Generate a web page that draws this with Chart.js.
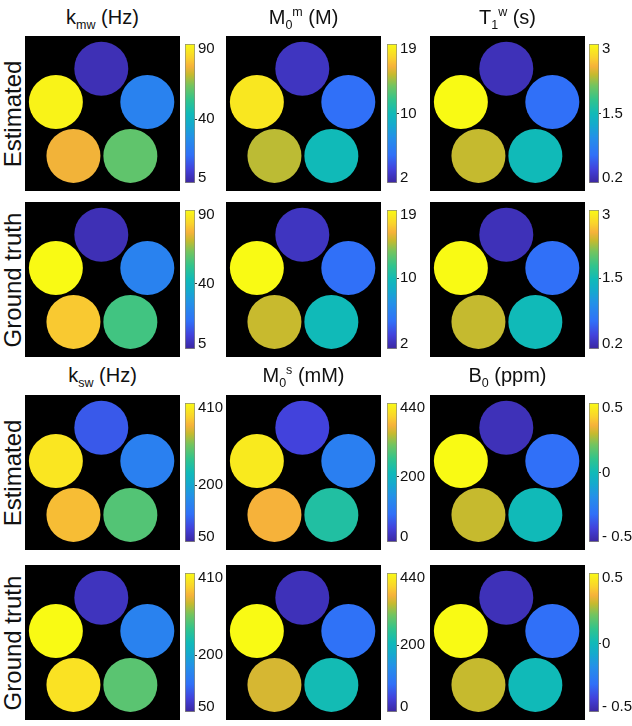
<!DOCTYPE html>
<html><head><meta charset="utf-8">
<script src="https://cdn.jsdelivr.net/npm/chart.js@4"></script>
<style>
html,body{margin:0;padding:0;background:#fff;width:632px;height:726px;overflow:hidden;font-family:"Liberation Sans",Arial,sans-serif;color:#111}
canvas{position:absolute;display:block}
.t{position:absolute;font-size:20px;line-height:24px;white-space:nowrap;transform:translateX(-50%)}
.t sub,.t sup{font-size:12.5px;line-height:0}
.r{position:absolute;font-size:24px;line-height:26px;white-space:nowrap;transform:translate(-50%,-50%) rotate(-90deg)}
</style></head><body>
<script>
// phantom vial layout, in image pixels (128 x 128 matrix)
const vialX = [63, 25.5, 101, 40, 87];
const vialY = [27, 54.5, 54.5, 99, 99];

const kmwEstimated = [8, 88.5, 28, 76, 62];
const kmwTruth     = [8, 90, 28, 80, 58];
const m0mEstimated = [2.9, 18.2, 5.4, 15.1, 10.5];
const m0mTruth     = [2.9, 19, 5.4, 15.3, 10.5];
const t1wEstimated = [0.31, 3, 0.76, 2.38, 1.6];
const t1wTruth     = [0.31, 3, 0.76, 2.38, 1.6];
const kswEstimated = [104, 392, 144, 360, 284];
const kswTruth     = [68, 410, 147, 388, 288];
const m0sEstimated = [44, 422, 114, 370, 242];
const m0sTruth     = [18, 440, 92, 352, 224];
const b0Estimated  = [-0.46, 0.5, -0.3, 0.28, 0];
const b0Truth      = [-0.46, 0.5, -0.3, 0.28, 0];

const kmwRange = [5, 90],  m0mRange = [2, 19],  t1wRange = [0.2, 3];
const kswRange = [50, 410], m0sRange = [0, 440], b0Range = [-0.5, 0.5];

const kmwTicks = ['5', '40', '90'];
const m0mTicks = ['2', '10', '19'];
const t1wTicks = ['0.2', '1.5', '3'];
const kswTicks = ['50', '200', '410'];
const m0sTicks = ['0', '200', '440'];
const b0Ticks  = ['- 0.5', '0', '0.5'];

const kmwTitle = 'k<sub>mw</sub> (Hz)';
const m0mTitle = 'M<sub>0</sub><sup>m</sup> (M)';
const t1wTitle = 'T<sub>1</sub><sup>w</sup> (s)';
const kswTitle = 'k<sub>sw</sub> (Hz)';
const m0sTitle = 'M<sub>0</sub><sup>s</sup> (mM)';
const b0Title  = 'B<sub>0</sub> (ppm)';

const rowLabels = ['Estimated', 'Ground truth', 'Estimated', 'Ground truth'];

// colormap
const cmap = [
 [0,[60,38,160]],[0.1,[66,66,220]],[0.2,[48,112,248]],[0.33,[35,145,232]],[0.42,[20,170,205]],
 [0.5,[16,186,184]],[0.6,[50,196,140]],[0.7,[115,196,95]],[0.78,[198,186,46]],[0.84,[246,178,58]],[0.9,[250,210,45]],[1,[249,250,20]]
];
function colorAt(f){
  f=Math.max(0,Math.min(1,f));
  for(let i=1;i<cmap.length;i++){
    if(f<=cmap[i][0]){
      const a=cmap[i-1],b=cmap[i],t=(f-a[0])/(b[0]-a[0]);
      return 'rgb('+a[1].map((v,k)=>Math.round(v+(b[1][k]-v)*t)).join(',')+')';
    }
  }
  return 'rgb(249,250,20)';
}

const colX = [25, 226, 430], barX = [185, 387, 589], rowY = [36, 202, 395, 565];
const panelSize = 155;

const blackBg = {id:'blackBg',beforeDraw(c){const g=c.ctx;g.save();g.fillStyle='#000';g.fillRect(0,0,c.width,c.height);g.restore();}};

function addCanvas(x,y,w,h){
  const cv=document.createElement('canvas');
  cv.style.left=x+'px';cv.style.top=y+'px';cv.style.width=w+'px';cv.style.height=h+'px';
  cv.width=w;cv.height=h;document.body.appendChild(cv);return cv.getContext('2d');
}

function phantom(x,y,values,range){
  new Chart(addCanvas(x,y,panelSize,panelSize),{
    type:'bubble',plugins:[blackBg],
    data:{datasets:[{
      data:values.map((v,i)=>({x:vialX[i],y:vialY[i],r:27,v})),
      backgroundColor:values.map(v=>colorAt((v-range[0])/(range[1]-range[0]))),
      borderWidth:0,hoverRadius:0
    }]},
    options:{responsive:false,animation:false,layout:{padding:0,autoPadding:false},clip:false,
      plugins:{legend:{display:false},tooltip:{enabled:false},title:{display:false}},
      scales:{x:{type:'linear',min:0,max:128,display:false},
              y:{type:'linear',min:0,max:128,reverse:true,display:false}}}
  });
}

function colorbar(x,y,labels,midFrac){
  const pos=[0.035,midFrac,0.965];
  new Chart(addCanvas(x,y-2,47,panelSize+4),{
    type:'bar',
    data:{labels:[''],datasets:[{
      data:[[0,1]],barPercentage:1,categoryPercentage:1,
      backgroundColor(ctx){
        const a=ctx.chart.chartArea; if(!a) return '#888';
        const g=ctx.chart.ctx.createLinearGradient(0,a.bottom,0,a.top);
        cmap.forEach(s=>g.addColorStop(s[0],'rgb('+s[1].join(',')+')'));
        return g;
      },
      borderColor:'#8b8b7c',borderWidth:1,borderSkipped:false
    }]},
    options:{responsive:false,animation:false,
      layout:{padding:{left:0,top:0,bottom:0,right:0}},
      plugins:{legend:{display:false},tooltip:{enabled:false},title:{display:false}},
      scales:{
        x:{display:false},
        y:{position:'right',min:0,max:1,afterFit(s){s.width=37;},
           afterBuildTicks(s){s.ticks=pos.map(value=>({value}));},
           border:{display:false},
           grid:{drawOnChartArea:false,drawTicks:true,tickLength:2,tickWidth:1,
                 tickColor(c){return c.index===1?'#333':'rgba(0,0,0,0)';}},
           ticks:{autoSkip:false,maxRotation:0,padding:1,color:'#111',
                  font:{family:'"Liberation Sans"',size:15},
                  callback(v,i){return labels[i];}}}
      }}
  });
}

function text(cls,x,y,html){const d=document.createElement('div');d.className=cls;d.style.left=x+'px';d.style.top=y+'px';d.innerHTML=html;document.body.appendChild(d);}

const rows=[
 {y:rowY[0],titleY:5,data:[kmwEstimated,m0mEstimated,t1wEstimated],title:[kmwTitle,m0mTitle,t1wTitle],mid:[0.46,0.5,0.5]},
 {y:rowY[1],data:[kmwTruth,m0mTruth,t1wTruth],mid:[0.47,0.51,0.51]},
 {y:rowY[2],titleY:363,data:[kswEstimated,m0sEstimated,b0Estimated],title:[kswTitle,m0sTitle,b0Title],mid:[0.41,0.47,0.5]},
 {y:rowY[3],data:[kswTruth,m0sTruth,b0Truth],mid:[0.41,0.48,0.49]}
];
const ranges=[[kmwRange,m0mRange,t1wRange],[kmwRange,m0mRange,t1wRange],[kswRange,m0sRange,b0Range],[kswRange,m0sRange,b0Range]];
const ticks=[[kmwTicks,m0mTicks,t1wTicks],[kmwTicks,m0mTicks,t1wTicks],[kswTicks,m0sTicks,b0Ticks],[kswTicks,m0sTicks,b0Ticks]];
rows.forEach((row,r)=>{
  text('r',13,row.y+panelSize/2,rowLabels[r]);
  for(let c=0;c<3;c++){
    phantom(colX[c],row.y,row.data[c],ranges[r][c]);
    colorbar(barX[c],row.y,ticks[r][c],row.mid[c]);
    if(row.title) text('t',colX[c]+panelSize/2,row.titleY,row.title[c]);
  }
});
</script>
</body></html>
